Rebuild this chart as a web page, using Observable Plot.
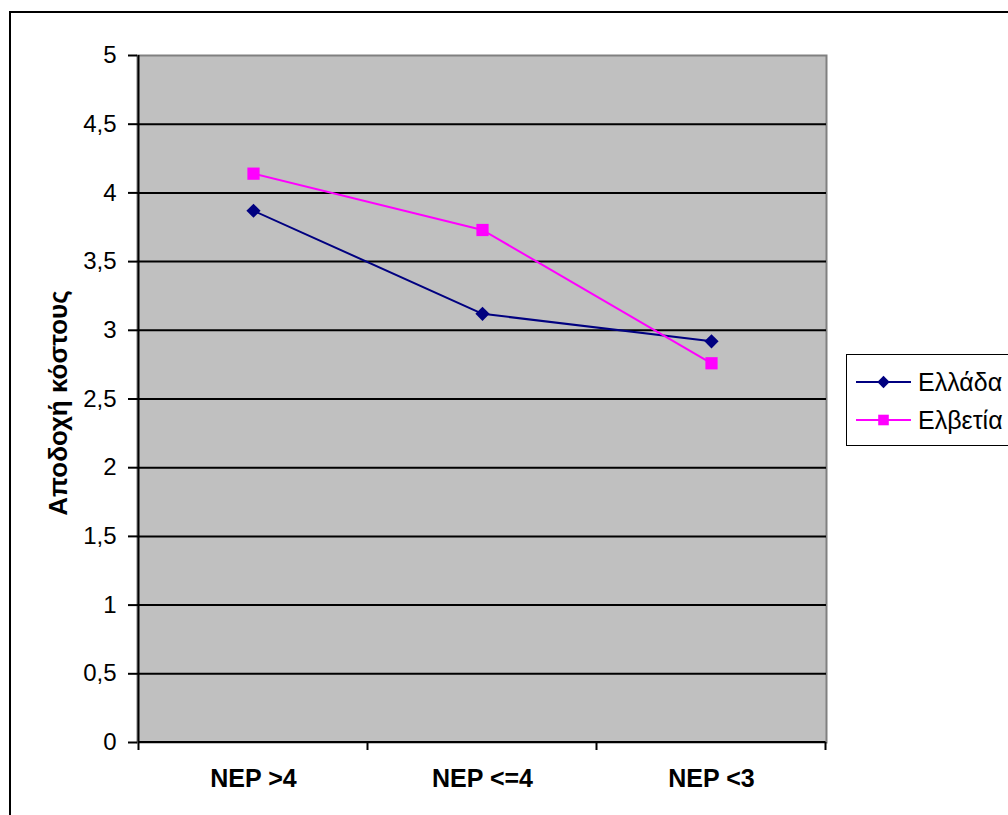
<!DOCTYPE html>
<html><head><meta charset="utf-8">
<script src="https://cdn.jsdelivr.net/npm/d3@7"></script>
<script src="https://cdn.jsdelivr.net/npm/@observablehq/plot@0.6"></script>
<style>
body{margin:0;background:#fff;overflow:hidden;font-family:"Liberation Sans",Arial,sans-serif;}
#wrap{position:relative;width:1008px;height:815px;overflow:hidden;}
#border{position:absolute;left:9px;top:11px;width:1100px;height:900px;border:2px solid #000;box-sizing:border-box;}
#chart{position:absolute;left:0;top:0;}
#legend{position:absolute;left:846px;top:354px;width:200px;height:92px;border:1px solid #000;background:#fff;box-sizing:border-box;}
.lg-item{position:absolute;left:0;height:30px;display:flex;align-items:center;font-size:25px;color:#000;white-space:nowrap;}
.lg-item svg{margin-left:9px;margin-right:7px;}
</style></head><body>
<div id="wrap"><div id="border"></div><div id="chart"></div><div id="legend"></div></div>
<script>
const categories = ["NEP >4", "NEP <=4", "NEP <3"];
const greece = [3.87, 3.12, 2.92];
const switzerland = [4.14, 3.73, 2.76];
const seriesNames = ["Ελλάδα", "Ελβετία"];
const seriesColors = ["#000080", "#ff00ff"];
const seriesSymbols = ["diamond2", "square"];
const yTicks = [0, 0.5, 1, 1.5, 2, 2.5, 3, 3.5, 4, 4.5, 5];
const yTitle = "Αποδοχή κόστους";

const rows = [];
categories.forEach((c, i) => {
  rows.push({cat: c, value: greece[i], series: seriesNames[0]});
  rows.push({cat: c, value: switzerland[i], series: seriesNames[1]});
});

const boundaryMarks = (index, scales, values, dims) => {
  const x = scales.x, y = scales.y;
  const p0 = x(categories[0]), p1 = x(categories[1]);
  const step = p1 - p0;
  const bounds = [p0 - step / 2, ...categories.map(c => x(c) + step / 2)];
  const y0 = y(0), yTop = y(5);
  const g = d3.create("svg:g");
  g.append("line").attr("x1", bounds[0]).attr("x2", bounds[0]).attr("y1", yTop).attr("y2", y0)
    .attr("stroke", "#000").attr("stroke-width", 2);
  g.append("line").attr("x1", bounds[0]).attr("x2", bounds[bounds.length - 1]).attr("y1", y0).attr("y2", y0)
    .attr("stroke", "#000").attr("stroke-width", 2);
  for (const b of bounds) {
    g.append("line").attr("x1", b).attr("x2", b).attr("y1", y0).attr("y2", y0 + 8)
      .attr("stroke", "#000").attr("stroke-width", 2);
  }
  return g.node();
};

const chart = Plot.plot({
  width: 1008,
  height: 815,
  marginLeft: 137,
  marginRight: 182,
  marginTop: 55,
  marginBottom: 73,
  style: {fontFamily: "'Liberation Sans', Arial, sans-serif", background: "transparent", color: "#000"},
  x: {type: "point", domain: categories, padding: 0.5, axis: null},
  y: {domain: [0, 5], axis: null},
  color: {domain: seriesNames, range: seriesColors},
  marks: [
    Plot.frame({fill: "#c0c0c0", stroke: "#808080", strokeWidth: 2}),
    Plot.gridY(yTicks.filter(d => d > 0 && d < 5), {stroke: "#000", strokeOpacity: 1, strokeWidth: 2}),
    boundaryMarks,
    Plot.axisY(yTicks, {tickSize: 9, tickPadding: 12, fontSize: 24, stroke: "#000", strokeWidth: 2,
      tickFormat: d => String(d).replace(".", ","), label: null}),
    Plot.axisX(categories, {tickSize: 0, tickPadding: 27, fontSize: 25, fontWeight: "bold", label: null}),
    Plot.text([yTitle], {frameAnchor: "left", textAnchor: "middle", dx: -79, dy: 4, rotate: -90, fontSize: 26, fontWeight: "bold"}),
    Plot.line(rows, {x: "cat", y: "value", stroke: "series", z: "series", strokeWidth: 2}),
    Plot.dot(rows.filter(d => d.series === seriesNames[0]), {x: "cat", y: "value", symbol: () => seriesSymbols[0], r: 6.4, fill: seriesColors[0], stroke: "none"}),
    Plot.dot(rows.filter(d => d.series === seriesNames[1]), {x: "cat", y: "value", symbol: () => seriesSymbols[1], r: 6.9, fill: seriesColors[1], stroke: "none"})
  ]
});
document.getElementById("chart").appendChild(chart);

// legend
const legend = document.getElementById("legend");
const symbolSizes = [Math.PI * 6.4 * 6.4, Math.PI * 6.9 * 6.9];
const d3Symbols = [d3.symbolDiamond2, d3.symbolSquare];
seriesNames.forEach((name, i) => {
  const item = document.createElement("div");
  item.className = "lg-item";
  item.style.top = (12 + i * 38) + "px";
  const s = d3.create("svg").attr("width", 55).attr("height", 16);
  s.append("line").attr("x1", 0).attr("x2", 55).attr("y1", 8).attr("y2", 8)
    .attr("stroke", seriesColors[i]).attr("stroke-width", 2);
  s.append("path").attr("transform", "translate(27.5,8)")
    .attr("d", d3.symbol(d3Symbols[i], symbolSizes[i] * 0.75)())
    .attr("fill", seriesColors[i]);
  item.appendChild(s.node());
  const t = document.createElement("span");
  t.textContent = name;
  item.appendChild(t);
  legend.appendChild(item);
});
</script>
</body></html>
